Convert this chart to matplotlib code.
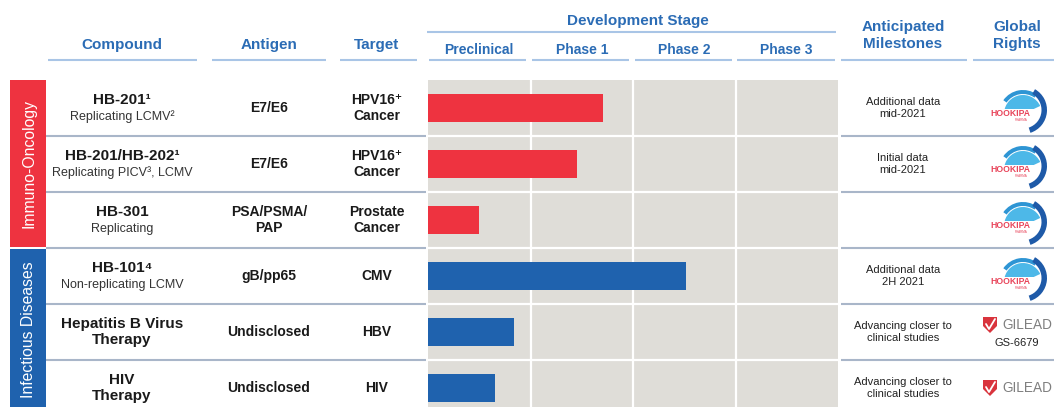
import matplotlib
matplotlib.use("Agg")
import matplotlib.pyplot as plt
from matplotlib.patches import Rectangle, Wedge, Polygon

plt.rcParams['font.family'] = ['Liberation Sans', 'DejaVu Sans']

# ---------------- data ----------------
stages = ["Preclinical", "Phase 1", "Phase 2", "Phase 3"]
groups = ["Immuno-Oncology", "Infectious Diseases"]
group_of_row = [0, 0, 0, 1, 1, 1]
compounds = ["HB-201\u00b9", "HB-201/HB-202\u00b9", "HB-301", "HB-101\u2074",
             "Hepatitis B Virus\nTherapy", "HIV\nTherapy"]
subtitles = ["Replicating LCMV\u00b2", "Replicating PICV\u00b3, LCMV", "Replicating",
             "Non-replicating LCMV", "", ""]
antigens = ["E7/E6", "E7/E6", "PSA/PSMA/\nPAP", "gB/pp65", "Undisclosed", "Undisclosed"]
targets = ["HPV16\u207a\nCancer", "HPV16\u207a\nCancer", "Prostate\nCancer", "CMV", "HBV", "HIV"]
progress = [1.71, 1.45, 0.50, 2.52, 0.84, 0.65]   # in stage units (0-4)
milestones = ["Additional data\nmid-2021", "Initial data\nmid-2021", "",
              "Additional data\n2H 2021", "Advancing closer to\nclinical studies",
              "Advancing closer to\nclinical studies"]
rights = ["HOOKIPA", "HOOKIPA", "HOOKIPA", "HOOKIPA", "GILEAD", "GILEAD"]
rights_note = ["", "", "", "", "GS-6679", ""]

# ---------------- style ----------------
RED = "#ee3340"
BLUE = "#1f62ae"
GROUP_COLORS = [RED, BLUE]
HEAD = "#2b6cb5"
ULINE = "#a9c5e6"
SEP = "#a9b6c9"
GRAY = "#dfddd8"
TXT = "#1a1a1a"

W, H = 1054, 407
fig = plt.figure(figsize=(W / 100, H / 100), dpi=100)
fig.patch.set_facecolor("white")

ROW_TOP, ROW_H = 80, 56
GX0, GX1 = 428, 838
nrows = len(compounds)

# ---------------- bar axes ----------------
axb = fig.add_axes([GX0 / W, 1 - (ROW_TOP + nrows * ROW_H) / H,
                    (GX1 - GX0) / W, nrows * ROW_H / H])
axb.set_facecolor(GRAY)
rows = list(range(nrows))
axb.barh(rows, progress, height=0.5, left=0,
         color=[GROUP_COLORS[g] for g in group_of_row], zorder=3)
axb.set_xlim(0, len(stages))
axb.set_ylim(nrows - 0.5, -0.5)
for k in range(1, len(stages)):
    axb.axvline(k, color="white", lw=1.6, zorder=2)
for r in range(nrows - 1):
    axb.axhline(r + 0.5, color="white", lw=1.6, zorder=2)
for s in axb.spines.values():
    s.set_visible(False)
axb.set_xticks([])
axb.set_yticks([])

# ---------------- overlay (pixel coordinates) ----------------
ax = fig.add_axes([0, 0, 1, 1], zorder=5)
ax.set_xlim(0, W)
ax.set_ylim(H, 0)
ax.axis("off")
ax.patch.set_alpha(0)


def rc(i):
    return ROW_TOP + (i + 0.5) * ROW_H


# headers
hdr = dict(color=HEAD, fontweight="bold", ha="center", va="center")
ax.text(122, 45, "Compound", fontsize=11, **hdr)
ax.text(269, 45, "Antigen", fontsize=11, **hdr)
ax.text(377, 45, "Target", fontsize=11, **hdr)
ax.text(638, 21, "Development Stage", fontsize=11, **hdr)
ax.text(903, 35.5, "Anticipated\nMilestones", fontsize=11, linespacing=1.25, **hdr)
ax.text(1017, 35.5, "Global\nRights", fontsize=11, linespacing=1.25, **hdr)
stage_w = (GX1 - GX0) / len(stages)
for k, st in enumerate(stages):
    cx = GX0 + (k + 0.5) * stage_w
    ax.text(cx, 50, st, fontsize=10, **hdr)

# underlines
ul = [(48, 197), (212, 326), (340, 417), (429, 526), (532, 629), (635, 732),
      (737, 835), (841, 967), (973, 1054)]
for a, b in ul:
    ax.plot([a, b], [60, 60], color=ULINE, lw=1.5, solid_capstyle="butt")
ax.plot([427, 836], [32, 32], color=ULINE, lw=1.5, solid_capstyle="butt")

# group bands
for g, name in enumerate(groups):
    idx = [i for i in rows if group_of_row[i] == g]
    y0 = ROW_TOP + idx[0] * ROW_H + (1 if g > 0 else 0)
    y1 = ROW_TOP + (idx[-1] + 1) * ROW_H - (1 if g == 0 else 0)
    ax.add_patch(Rectangle((10, y0), 36, y1 - y0, color=GROUP_COLORS[g], lw=0))
    ax.text(28.5, (y0 + y1) / 2 if g == 0 else (y0 + y1) / 2 - 3, name,
            rotation=90, color="white", fontsize=11.3, ha="center", va="center")

# row separators
for r in range(1, nrows):
    y = ROW_TOP + r * ROW_H
    ax.plot([46, 426], [y, y], color=SEP, lw=1.5, solid_capstyle="butt")
    ax.plot([841, W], [y, y], color=SEP, lw=1.5, solid_capstyle="butt")

# row texts
for i in rows:
    y = rc(i)
    if subtitles[i]:
        ax.text(122, y - 8, compounds[i], fontsize=11, fontweight="bold",
                color=TXT, ha="center", va="center")
        ax.text(122, y + 9, subtitles[i], fontsize=9, color="#333333",
                ha="center", va="center")
    else:
        ax.text(122, y, compounds[i], fontsize=11, fontweight="bold",
                color=TXT, ha="center", va="center", linespacing=1.2)
    ax.text(269, y, antigens[i], fontsize=10, fontweight="bold", color=TXT,
            ha="center", va="center", linespacing=1.2)
    ax.text(377, y, targets[i], fontsize=10, fontweight="bold", color=TXT,
            ha="center", va="center", linespacing=1.2)
    if milestones[i]:
        ax.text(903, y, milestones[i], fontsize=8, color="#222222",
                ha="center", va="center", linespacing=1.15)


def hookipa(cx, cy):
    # light dome, medium top arc, dark right crescent
    ax.add_patch(Wedge((cx + 9, cy + 6), 19, 185, 335, color="#4db8e8", lw=0))
    ax.add_patch(Wedge((cx + 9, cy + 6), 24, 215, 305, width=4,
                       color="#2e95d4", lw=0))
    ax.add_patch(Wedge((cx + 9, cy + 2), 24, 300, 72, width=5.5,
                       color="#1e5aa8", lw=0))
    ax.add_patch(Rectangle((cx - 24, cy + 1), 44, 14, color="white", lw=0))
    ax.text(cx - 4, cy + 6, "HOOKIPA", fontsize=6.2, fontweight="bold",
            color="#e8445a", ha="center", va="center")
    ax.text(cx + 7, cy + 12, "PHARMA", fontsize=2.2, color="#e8445a",
            ha="center", va="center")


def gilead(cx, cy):
    sx, sy = cx - 26, cy
    pts = [(sx - 7, sy - 8), (sx + 7, sy - 8), (sx + 7, sy + 1), (sx, sy + 8),
           (sx - 7, sy + 1)]
    ax.add_patch(Polygon(pts, closed=True, color="#d9343d", lw=0))
    ax.plot([sx - 4, sx - 1, sx + 5], [sy - 1, sy + 4, sy - 6], color="white",
            lw=1.3, solid_capstyle="round")
    ax.text(cx - 14, cy, "GILEAD", fontsize=9.8, color="#7f7f7f",
            ha="left", va="center")


for i in rows:
    y = rc(i)
    if rights[i] == "HOOKIPA":
        hookipa(1014, y)
    else:
        if rights_note[i]:
            gilead(1016, y - 7)
            ax.text(1017, y + 11, rights_note[i], fontsize=8, color="#222222",
                    ha="center", va="center")
        else:
            gilead(1016, y)

fig.savefig("out.png", dpi=100)
